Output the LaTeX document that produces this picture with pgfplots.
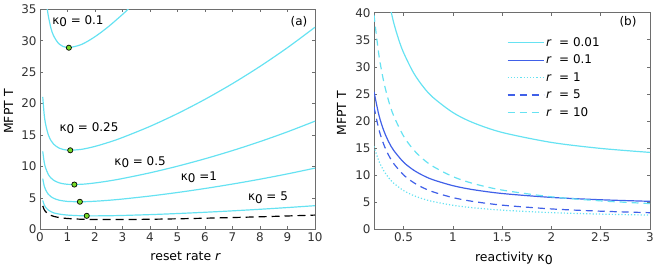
\documentclass[border=0pt]{standalone}
\usepackage{fontspec}
\setmainfont{DejaVu Sans}
\usepackage{pgfplots}
\pgfplotsset{compat=1.18}
\definecolor{cy}{RGB}{102,226,242}
\definecolor{bl}{RGB}{64,96,232}
\definecolor{gr}{RGB}{120,220,40}
\definecolor{axc}{RGB}{110,110,110}
\definecolor{txc}{RGB}{50,50,50}
\newcommand{\kz}{κ\raisebox{-0.4ex}{0}}
\pgfplotsset{mystyle/.style={
  scale only axis,
  axis line style={axc, line width=0.6pt},
  tick style={axc, line width=0.6pt},
  major tick length=3bp,
  tick align=inside,
  tick label style={font=\fontsize{12}{14}\selectfont, color=txc},
  label style={font=\fontsize{12.5}{14}\selectfont, color=black},
  /pgf/number format/assume math mode=true,
  clip=true,
}}
\begin{document}
\begin{tikzpicture}
\path[use as bounding box] (0,0) rectangle (654bp,274bp);
% ---------------- panel (a)
\begin{axis}[mystyle,
  at={(40bp,44.7bp)}, anchor=south west,
  width=275bp, height=220bp,
  xmin=0, xmax=10, ymin=0, ymax=35,
  xtick={0,1,...,10}, ytick={0,5,...,35},
  xlabel={reset rate \textit{r}},
  ylabel={MFPT T},
  xlabel style={anchor=base, at={(axis description cs:0.53,-0.144)}},
  ylabel style={anchor=base, at={(axis description cs:-0.098,0.535)}},
]
\addplot[cy, line width=1.2pt, smooth] coordinates {
(0.2,37.79)(0.25,35.57)(0.3,34.003)(0.4,31.966)(0.5,30.738)(0.7,29.463)(1,28.901)(1.5,29.390)(2,30.642)(2.5,32.285)(3,34.184)(3.2,35.00)(3.4,35.9)};
\addplot[cy, line width=1.2pt, smooth] coordinates {
(0.1,21.073)(0.15,18.366)(0.2,16.808)(0.3,15.060)(0.4,14.110)(0.5,13.529)(0.7,12.907)(1,12.591)(1.5,12.717)(2,13.191)(2.5,13.840)(3,14.604)(4,16.375)(5,18.409)(6,20.678)(7,23.179)(8,25.917)(9,28.901)(10,32.146)};
\addplot[cy, line width=1.2pt, smooth] coordinates {
(0.1,12.396)(0.15,10.760)(0.2,9.814)(0.3,8.746)(0.4,8.158)(0.5,7.793)(0.7,7.388)(1,7.155)(1.5,7.160)(2,7.374)(2.5,7.692)(3,8.077)(4,8.986)(5,10.040)(6,11.221)(7,12.525)(8,13.953)(9,15.511)(10,17.204)};
\addplot[cy, line width=1.2pt, smooth] coordinates {
(0.1,8.058)(0.15,6.957)(0.2,6.317)(0.3,5.588)(0.4,5.182)(0.5,4.924)(0.7,4.629)(1,4.437)(1.5,4.381)(2,4.465)(2.5,4.618)(3,4.814)(4,5.292)(5,5.856)(6,6.492)(7,7.198)(8,7.972)(9,8.816)(10,9.733)};
\addplot[cy, line width=1.2pt, smooth] coordinates {
(0.1,4.587)(0.15,3.914)(0.2,3.519)(0.3,3.062)(0.4,2.801)(0.5,2.610)(0.7,2.421)(1,2.262)(1.5,2.158)(2,2.138)(2.5,2.159)(3,2.203)(4,2.336)(5,2.508)(6,2.709)(7,2.936)(8,3.186)(9,3.460)(10,3.757)};
\addplot[black, line width=1.2pt, dash pattern=on 8bp off 5bp, smooth] coordinates {
(0.1,3.719)(0.15,3.153)(0.2,2.820)(0.3,2.431)(0.4,2.206)(0.5,2.056)(0.7,1.869)(1,1.718)(1.5,1.602)(2,1.557)(2.5,1.544)(3,1.551)(4,1.597)(5,1.671)(6,1.764)(7,1.871)(8,1.990)(9,2.121)(10,2.262)};
\addplot[only marks, mark=*, mark size=2.6bp, mark options={fill=gr, draw=black, line width=0.7pt}] coordinates {
(1.05,28.89)(1.1,12.57)(1.25,7.12)(1.45,4.38)(1.7,2.14)};
\node[font=\fontsize{12}{14}\selectfont] at (axis cs:1.38,33.1) {\kz\ = 0.1};
\node[font=\fontsize{12}{14}\selectfont] at (axis cs:1.78,16.1) {\kz\ = 0.25};
\node[font=\fontsize{12}{14}\selectfont] at (axis cs:3.64,10.7) {\kz\ = 0.5};
\node[font=\fontsize{12}{14}\selectfont] at (axis cs:5.78,8.3) {\kz\ =1};
\node[font=\fontsize{12}{14}\selectfont] at (axis cs:8.29,5.0) {\kz\ = 5};
\node[font=\fontsize{12}{14}\selectfont] at (axis cs:9.42,33.0) {(a)};
\end{axis}
% ---------------- panel (b)
\begin{axis}[mystyle,
  at={(374bp,44.7bp)}, anchor=south west,
  width=276bp, height=216.6bp,
  xmin=0.2, xmax=3, ymin=0, ymax=40,
  xtick={0.5,1,...,3}, ytick={0,5,...,40},
  xlabel={reactivity \kz},
  ylabel={MFPT T},
  xlabel style={anchor=base, at={(axis description cs:0.507,-0.150)}},
  ylabel style={anchor=base, at={(axis description cs:-0.101,0.535)}},
  legend style={at={(0.47,0.905)}, anchor=north west, draw=none, fill=none,
    font=\fontsize{12}{14}\selectfont, row sep=3.2bp, cells={anchor=west}},
  legend image code/.code={\draw[#1] (0bp,0bp) -- (36bp,0bp);},
]
\addplot[cy, line width=1.2pt, smooth] coordinates {
(0.35,42.09)(0.4,38.146)(0.45,35.076)(0.5,32.620)(0.6,28.937)(0.7,26.305)(0.8,24.332)(1,21.569)(1.2,19.727)(1.5,17.885)(2,16.043)(2.5,14.938)(3,14.201)};
\addlegendentry{\textit{r}~ = 0.01}
\addplot[bl, line width=1.2pt, smooth] coordinates {
(0.2,25.412)(0.25,21.073)(0.3,18.181)(0.35,16.115)(0.4,14.565)(0.5,12.396)(0.6,10.950)(0.7,9.917)(0.8,9.142)(1,8.058)(1.2,7.335)(1.5,6.612)(2,5.889)(2.5,5.455)(3,5.166)};
\addlegendentry{\textit{r}~ = 0.1}
\addplot[cy, line width=1.2pt, dash pattern=on 1.2bp off 2bp, smooth] coordinates {
(0.2,15.310)(0.25,12.591)(0.3,10.779)(0.35,9.485)(0.4,8.514)(0.5,7.155)(0.6,6.249)(0.7,5.602)(0.8,5.116)(1,4.437)(1.2,3.984)(1.5,3.530)(2,3.077)(2.5,2.806)(3,2.624)};
\addlegendentry{\textit{r}~ = 1}
\addplot[bl, line width=1.2pt, dash pattern=on 7bp off 5bp, smooth] coordinates {
(0.2,22.593)(0.25,18.409)(0.3,15.619)(0.35,13.627)(0.4,12.132)(0.5,10.040)(0.6,8.645)(0.7,7.649)(0.8,6.902)(1,5.856)(1.2,5.158)(1.5,4.461)(2,3.763)(2.5,3.345)(3,3.066)};
\addlegendentry{\textit{r}~ = 5}
\addplot[cy, line width=1.2pt, dash pattern=on 7bp off 5bp, smooth] coordinates {
(0.2,39.616)(0.25,32.145)(0.3,27.165)(0.35,23.607)(0.4,20.939)(0.5,17.204)(0.6,14.714)(0.7,12.935)(0.8,11.601)(1,9.733)(1.2,8.488)(1.5,7.243)(2,5.998)(2.5,5.250)(3,4.753)};
\addlegendentry{\textit{r}~ = 10}
\node[font=\fontsize{12}{14}\selectfont] at (axis cs:2.777,38.3) {(b)};
\end{axis}
\end{tikzpicture}
\end{document}
